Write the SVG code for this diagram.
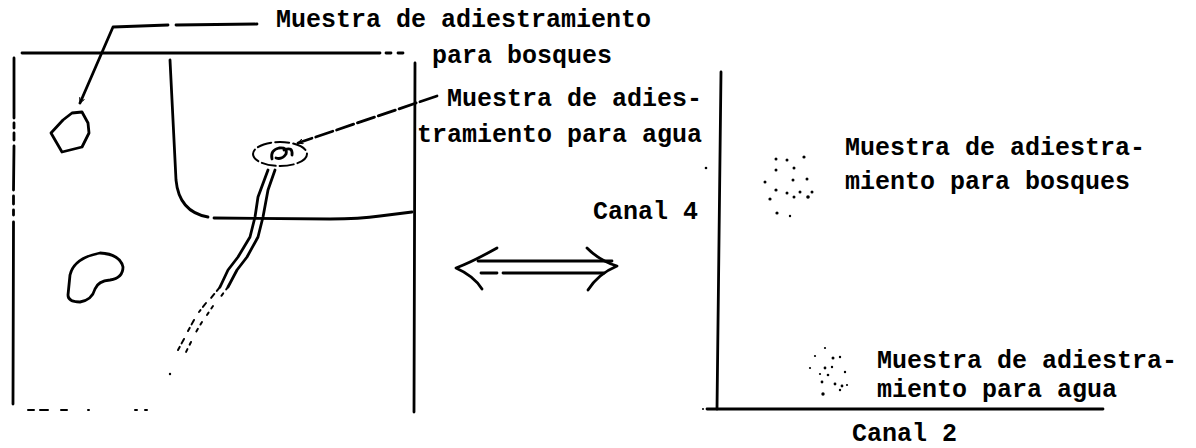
<svg xmlns="http://www.w3.org/2000/svg" width="1196" height="448" viewBox="0 0 1196 448">
  <defs>
    <style>
      .ink { fill: none; stroke: #000; stroke-width: 2.8; stroke-linecap: round; stroke-linejoin: round; }
      .thin { fill: none; stroke: #000; stroke-width: 2; stroke-linecap: round; stroke-linejoin: round; }
      .lbl { font-family: "Liberation Mono", "Courier New", monospace; font-size: 25px; font-weight: bold; fill: #000; }
      .dot { fill: #000; }
    </style>
    <marker id="open-head" viewBox="0 0 10 10" refX="9" refY="5" markerWidth="6" markerHeight="6" orient="auto" markerUnits="userSpaceOnUse">
      <path d="M1,1 L9,5 L1,9" fill="none" stroke="#000" stroke-width="1.8" stroke-linecap="round"/>
    </marker>
  </defs>

  <rect width="1196" height="448" fill="#fff"/>

  <!-- image panel: frame, field boundary, river and sample areas -->
  <g id="image-panel">
    <path class="ink" d="M14 58 L14 118 M14 123 L14 128 M14 133 L14 140 M14 146 L13.5 190 M13.5 196 L13.5 204 M13.5 210 L13.5 215 M13.5 222 L13 404"/>
    <path class="ink" d="M22 53 L380 53 M386 53 L391 53 M398 53 L403 53"/>
    <path class="ink" d="M415 63 L414 412"/>
    <path class="thin" d="M28 410 L34 410 M40 410 L48 410 M61 410 L67 410 M88 410 L89 410 M135 410 L137 410 M145 410 L147 410"/>
    <!-- field boundary -->
    <path class="ink" d="M170 60 L176 180 Q 179 212 208 217"/>
    <path class="ink" d="M214 218 L330 219 Q 360 219 380 216 L412 212"/>
    <!-- forest sample -->
    <polygon id="forest-patch" class="ink" points="82,112 88,123 89,133 82,147 62,152 51,133 63,120 72,113"/>
    <!-- second patch -->
    <path id="bean-patch" class="ink" d="M100 253 Q 120 254 123 267 Q 123 278 110 280 Q 98 281 95 289 Q 92 300 80 302 Q 68 302 68 295 L 70 275 Q 74 258 100 253 Z"/>
    <!-- water sample ring -->
    <ellipse cx="280" cy="154" rx="27" ry="12" class="thin" stroke-width="2.4" stroke-dasharray="14 4"/>
    <path class="ink" d="M272 159 Q 270 150 279 148 Q 288 147 286 154 Q 282 160 276 158 M284 150 Q 293 146 292 155"/>
    <!-- river -->
    <path class="ink" d="M268 170 L258 197 L255 217 L250 237 L238 257 L228 270 L220 287"/>
    <path class="ink" d="M275 170 L268 190 L263 217 L258 237 L247 257 L237 270 L228 287"/>
    <path class="thin" d="M220 287 L211 298 M206 303 L199 312 M194 320 L188 331 M184 339 L178 350" stroke-dasharray="5 4"/>
    <path class="thin" d="M228 287 L219 299 M213 306 L207 315 M202 322 L196 332 M191 342 L184 356" stroke-dasharray="3 5"/>
    <circle class="dot" cx="170" cy="374" r="1.2"/>
  </g>

  <!-- leaders to the samples -->
  <g id="connectors">
    <path class="ink" d="M257 24 L176 25 M168 25 L113 27 L80 103" marker-end="url(#open-head)"/>
    <path class="ink" d="M437 96 L298 143" stroke-dasharray="18 4" marker-end="url(#open-head)"/>
    <!-- two-way arrow between image and feature space -->
    <path class="ink" d="M478 261 L612 261 M481 273 L497 273 M503 273 L604 273"/>
    <path class="ink" d="M497 248 Q 472 262 456 268 Q 474 276 482 289"/>
    <path class="ink" d="M587 248 Q 600 261 617 266 Q 598 274 588 290"/>
  </g>

  <!-- feature-space axes -->
  <g id="axes">
    <path class="ink" d="M721 72 L717 409"/>
    <path class="ink" d="M707 409 L1103 409"/>
    <circle class="dot" cx="703" cy="409" r="1"/>
    <circle class="dot" cx="706" cy="168" r="1.3"/>
  </g>

  <!-- forest cluster -->
  <g id="forest-cluster" class="dot">
    <circle cx="776" cy="159" r="1.5"/><circle cx="787" cy="160" r="1.5"/><circle cx="804" cy="157" r="1.6"/>
    <circle cx="776" cy="170" r="1.5"/><circle cx="794" cy="168" r="1.5"/><circle cx="765" cy="182" r="1.5"/>
    <circle cx="793" cy="180" r="1.5"/><circle cx="807" cy="179" r="1.5"/><circle cx="776" cy="190" r="1.6"/>
    <circle cx="787" cy="193" r="1.5"/><circle cx="800" cy="192" r="1.5"/><circle cx="770" cy="199" r="1.6"/>
    <circle cx="794" cy="197" r="1.5"/><circle cx="808" cy="197" r="1.8"/><circle cx="812" cy="192" r="1.5"/>
    <circle cx="777" cy="213" r="1.6"/><circle cx="790" cy="216" r="1.2"/>
  </g>

  <!-- water cluster -->
  <g id="water-cluster" class="dot">
    <circle cx="825" cy="348" r="1.1"/><circle cx="815" cy="356" r="1.1"/><circle cx="833" cy="358" r="1.5"/>
    <circle cx="840" cy="357" r="1.2"/><circle cx="810" cy="368" r="1.1"/><circle cx="825" cy="368" r="1.4"/>
    <circle cx="832" cy="367" r="1.2"/><circle cx="845" cy="372" r="1.2"/><circle cx="820" cy="374" r="1.1"/>
    <circle cx="828" cy="375" r="1.3"/><circle cx="822" cy="382" r="1.4"/><circle cx="835" cy="384" r="1.4"/>
    <circle cx="842" cy="386" r="1.4"/><circle cx="847" cy="385" r="1.1"/><circle cx="823" cy="394" r="1.7"/>
    <circle cx="840" cy="390" r="1.2"/>
  </g>

  <!-- labels -->
  <g id="label-forest-sample">
    <text class="lbl" x="276" y="27">Muestra de adiestramiento</text>
    <text class="lbl" x="432" y="63">para bosques</text>
  </g>
  <g id="label-water-sample">
    <text class="lbl" x="447" y="106">Muestra de adies-</text>
    <text class="lbl" x="417" y="142">tramiento para agua</text>
  </g>
  <g id="label-canal4">
    <text class="lbl" x="593" y="219">Canal 4</text>
  </g>
  <g id="label-forest-cluster">
    <text class="lbl" x="845" y="155">Muestra de adiestra-</text>
    <text class="lbl" x="845" y="189">miento para bosques</text>
  </g>
  <g id="label-water-cluster">
    <text class="lbl" x="877" y="368">Muestra de adiestra-</text>
    <text class="lbl" x="877" y="397">miento para agua</text>
  </g>
  <g id="label-canal2">
    <text class="lbl" x="852" y="441">Canal 2</text>
  </g>
</svg>
